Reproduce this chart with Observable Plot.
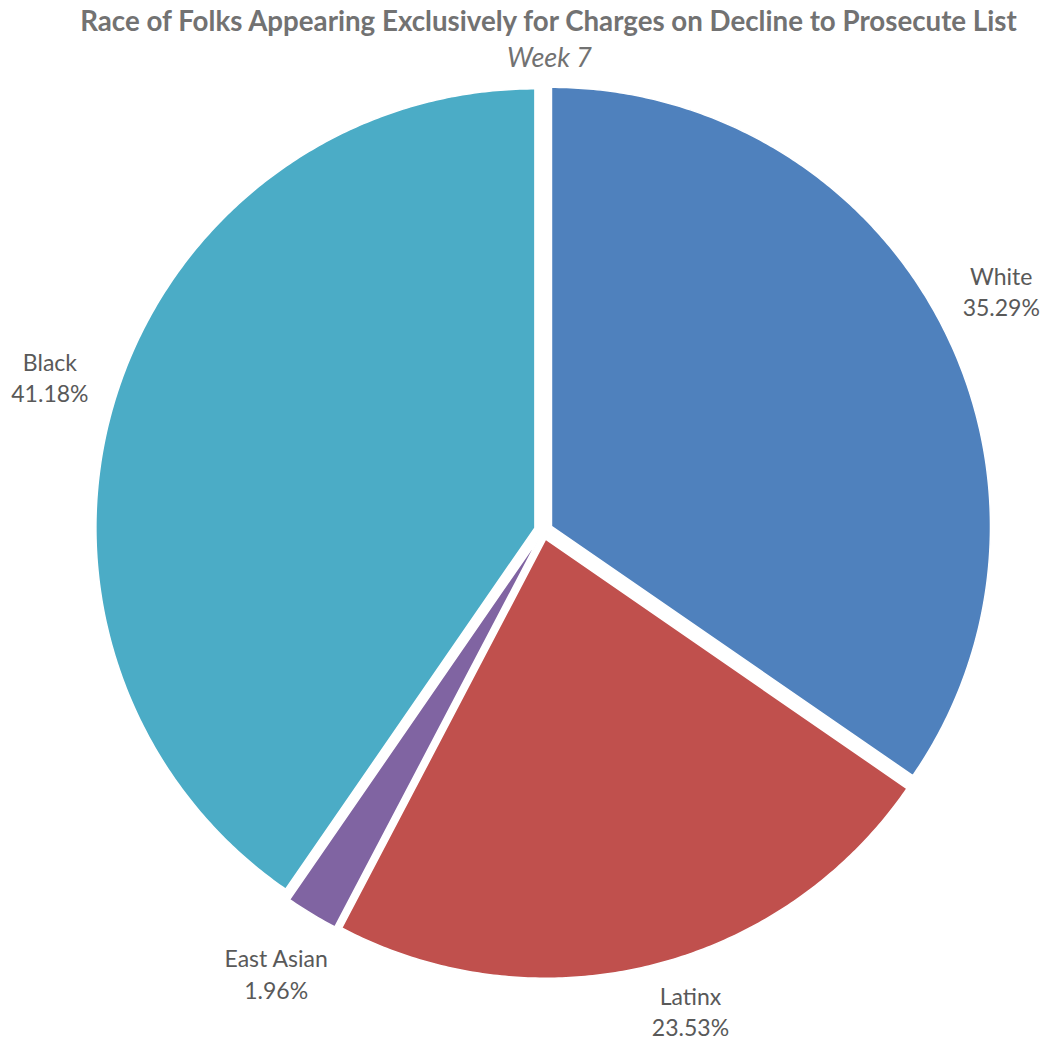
<!DOCTYPE html>
<html><head><meta charset="utf-8">
<script src="https://cdn.jsdelivr.net/npm/d3@7"></script>
<script src="https://cdn.jsdelivr.net/npm/@observablehq/plot@0.6"></script>
<style>
body{margin:0;background:#fff;font-family:Lato,"Open Sans",sans-serif;}
#wrap{width:1047px;overflow:hidden;}
#head{position:relative;height:75px;}
#title{position:absolute;left:25px;width:1047px;top:5.5px;text-align:center;font-weight:bold;font-size:27.7px;line-height:30px;color:#727272;white-space:nowrap;}
#sub{position:absolute;left:26px;width:1047px;top:41.5px;text-align:center;font-style:italic;font-size:27px;line-height:30px;color:#727272;white-space:nowrap;}
svg{display:block;}
</style></head><body>
<div id="wrap">
<div id="head"><div id="title">Race of Folks Appearing Exclusively for Charges on Decline to Prosecute List</div><div id="sub">Week 7</div></div>
<div id="chart"></div>
</div>
<script>
const categories = ["White", "Latinx", "East Asian", "Black"];
const percents = [35.29, 23.53, 1.96, 41.18];
const percentLabels = ["35.29%", "23.53%", "1.96%", "41.18%"];
const colors = ["#4F81BD", "#C0504D", "#8064A2", "#4BACC6"];

const W = 1047, H = 966, CX = 543, CY = 455, R = 439, EXPLODE = 9;
const LABEL_R = 517, LABEL_R_TIGHT = 502, LABEL_MAX_DY = 480;

const total = d3.sum(percents);
let acc = 0;
const slices = categories.map((c, i) => {
  const a0 = acc / total * 2 * Math.PI;
  acc += percents[i];
  const a1 = acc / total * 2 * Math.PI;
  return {c, i, a0, a1, mid: (a0 + a1) / 2};
});

const k = EXPLODE / R;
const pts = [];
for (const s of slices) {
  const ox = Math.sin(s.mid) * k, oy = -Math.cos(s.mid) * k;
  pts.push({c: s.c, x: ox, y: oy});
  const n = Math.max(2, Math.ceil((s.a1 - s.a0) / (Math.PI / 360)));
  for (let j = 0; j <= n; j++) {
    const a = s.a0 + (s.a1 - s.a0) * j / n;
    pts.push({c: s.c, x: ox + Math.sin(a), y: oy - Math.cos(a)});
  }
  pts.push({c: s.c, x: ox, y: oy});
}

const labels = slices.map(s => {
  const lr = LABEL_R / R, maxDy = LABEL_MAX_DY / R;
  let x = Math.sin(s.mid) * lr, y = -Math.cos(s.mid) * lr;
  if (y > maxDy) {
    const tr = LABEL_R_TIGHT / R;
    y = maxDy;
    x = Math.sign(x) * Math.sqrt(Math.max(0, tr * tr - y * y));
  }
  return {x, y, text: s.c + "\n" + percentLabels[s.i]};
});

const chart = Plot.plot({
  width: W, height: H, margin: 0,
  style: {background: "white", fontFamily: "Lato, 'Open Sans', sans-serif"},
  x: {domain: [-CX / R, (W - CX) / R], axis: null},
  y: {domain: [-CY / R, (H - CY) / R], reverse: true, axis: null},
  color: {domain: categories, range: colors},
  marks: [
    Plot.line(pts, {x: "x", y: "y", z: "c", fill: "c", stroke: "white", strokeWidth: 1.5, curve: "linear"}),
    Plot.text(labels, {x: "x", y: "y", text: "text", fontSize: 23, lineHeight: 1.36, fill: "#595959"})
  ]
});
document.getElementById("chart").appendChild(chart);
</script>
</body></html>
